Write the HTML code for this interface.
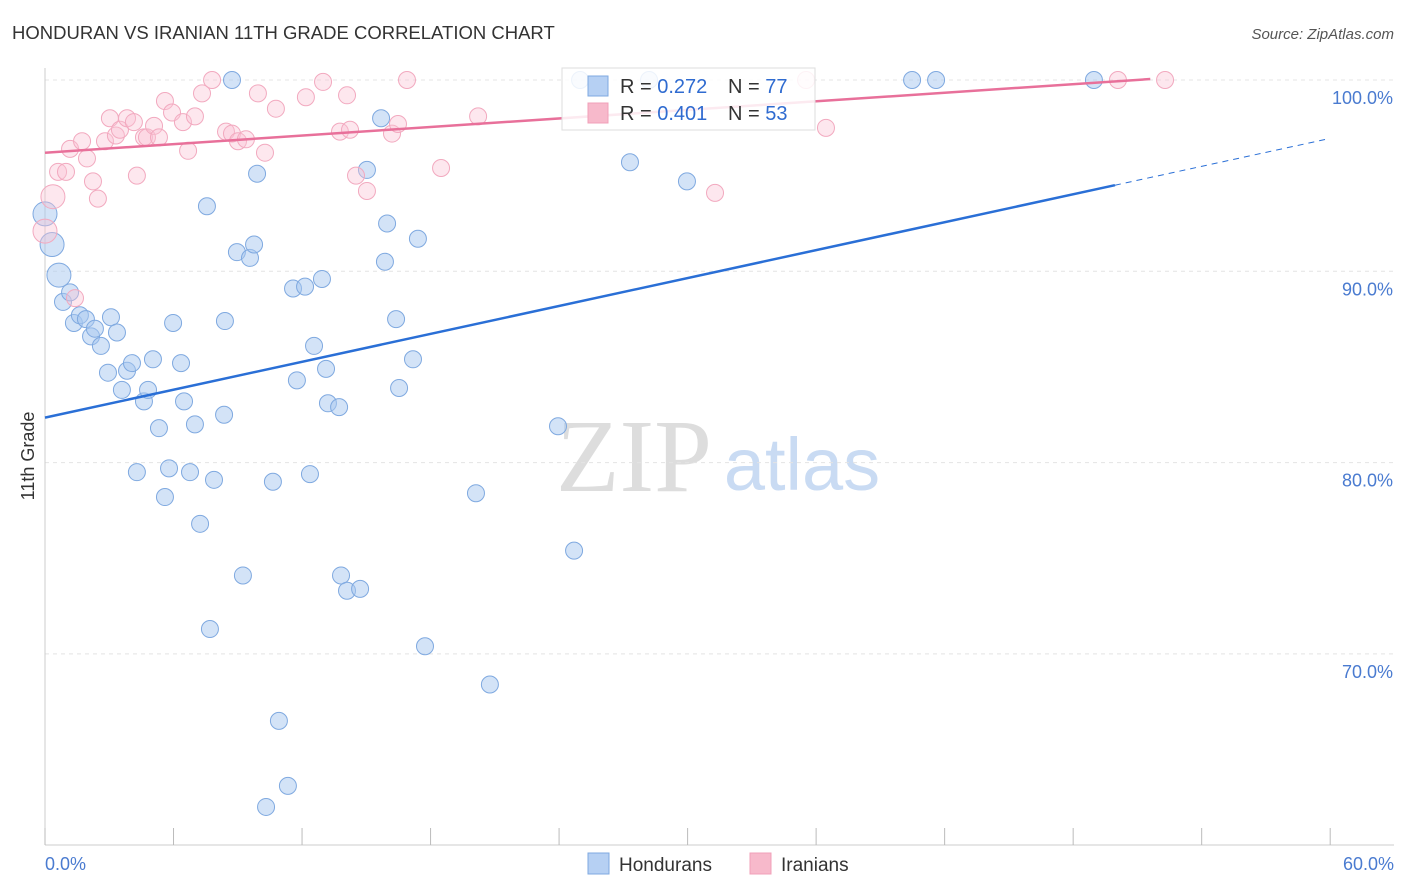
<!DOCTYPE html>
<html><head><meta charset="utf-8"><style>
body{margin:0;background:#fff;font-family:"Liberation Sans",sans-serif;}
svg{display:block}
</style></head><body>
<svg id="chart" width="1406" height="892">
<text x="12" y="39" font-size="18.5" fill="#333">HONDURAN VS IRANIAN 11TH GRADE CORRELATION CHART</text>
<text x="1394" y="39" font-size="15" fill="#555" text-anchor="end" font-style="italic">Source: ZipAtlas.com</text>
<text x="634" y="491" font-size="104" fill="#ddd" text-anchor="middle" font-family="Liberation Serif,serif">ZIP</text>
<text x="802" y="490" font-size="74" fill="#c9dbf3" text-anchor="middle">atlas</text>
<text transform="translate(34,456) rotate(-90)" font-size="18" fill="#333" text-anchor="middle">11th Grade</text>
<g id="grid"></g><g id="marks"></g><g id="lines"></g>
<g>
<rect x="562" y="68" width="253" height="62" fill="#fff" fill-opacity="0.85" stroke="#ddd"/>
<rect x="588" y="76" width="20" height="20" fill="#b6d0f3" stroke="#7fa9e0"/>
<text x="620" y="93" font-size="20" fill="#333">R = <tspan fill="#2f6bd0">0.272</tspan></text>
<text x="728" y="93" font-size="20" fill="#333">N = <tspan fill="#2f6bd0">77</tspan></text>
<rect x="588" y="103" width="20" height="20" fill="#f7b9cb" stroke="#f0a0b8"/>
<text x="620" y="120" font-size="20" fill="#333">R = <tspan fill="#2f6bd0">0.401</tspan></text>
<text x="728" y="120" font-size="20" fill="#333">N = <tspan fill="#2f6bd0">53</tspan></text>
</g>
<g>
<rect x="588" y="853" width="21" height="21" fill="#b6d0f3" stroke="#7fa9e0"/>
<text x="619" y="871" font-size="19" fill="#333">Hondurans</text>
<rect x="750" y="853" width="21" height="21" fill="#f7b9cb" stroke="#f0a0b8"/>
<text x="781" y="871" font-size="19" fill="#333">Iranians</text>
</g>
</svg>
<script>
const yTicks=[70,80,90,100];
const yTickLabels=["70.0%","80.0%","90.0%","100.0%"];
const xTickLabels=["0.0%","60.0%"];
const hondX=[0,0.33,0.65,0.84,1.17,1.35,1.63,1.91,2.15,2.33,2.61,2.94,3.08,3.36,3.59,3.83,4.06,4.29,4.62,4.81,5.04,5.32,5.60,5.79,5.98,6.35,6.49,6.77,7.00,7.24,7.56,7.70,7.89,8.36,8.40,8.73,8.96,9.24,9.57,9.76,9.90,10.32,10.64,10.92,11.34,11.58,11.76,12.14,12.37,12.56,12.93,13.12,13.21,13.73,13.82,14.10,14.71,15.03,15.69,15.87,15.97,16.39,16.53,17.18,17.41,17.74,20.12,20.77,23.95,24.70,24.98,27.31,28.20,29.97,40.48,41.60,48.97];
const hondY=[93.0,91.4,89.8,88.4,88.9,87.3,87.7,87.5,86.6,87.0,86.1,84.7,87.6,86.8,83.8,84.8,85.2,79.5,83.2,83.8,85.4,81.8,78.2,79.7,87.3,85.2,83.2,79.5,82.0,76.8,93.4,71.3,79.1,82.5,87.4,100,91.0,74.1,90.7,91.4,95.1,62.0,79.0,66.5,63.1,89.1,84.3,89.2,79.4,86.1,89.6,84.9,83.1,82.9,74.1,73.3,73.4,95.3,98.0,90.5,92.5,87.5,83.9,85.4,91.7,70.4,78.4,68.4,81.9,75.4,100,95.7,100,94.7,100,100,100];
const iranX=[0,0.37,0.61,0.98,1.17,1.40,1.73,1.96,2.24,2.47,2.80,3.03,3.31,3.50,3.83,4.15,4.29,4.62,4.76,5.09,5.32,5.60,5.93,6.44,6.68,7.00,7.33,7.80,8.45,8.73,9.01,9.38,9.94,10.27,10.78,12.18,12.98,13.77,14.10,14.24,14.52,15.03,16.20,16.48,16.90,18.49,20.22,31.28,35.53,36.46,50.09,52.29];
const iranY=[92.1,93.9,95.2,95.2,96.4,88.6,96.8,95.9,94.7,93.8,96.8,98.0,97.1,97.4,98.0,97.8,95.0,97.0,97.0,97.6,97.0,98.9,98.3,97.8,96.3,98.1,99.3,100,97.3,97.2,96.8,96.9,99.3,96.2,98.5,99.1,99.9,97.3,99.2,97.4,95.0,94.2,97.2,97.7,100,95.4,98.1,94.1,100,97.5,100,100];
const hondTrend=[[0,82.35],[49.95,94.5]];
const hondTrendDash=[[49.95,94.5],[59.8,96.9]];
const iranTrend=[[0,96.2],[51.6,100.05]];
const X=v=>45+v*21.42, Y=v=>80+(100-v)*19.13;
const NS="http://www.w3.org/2000/svg";
function mk(parent,tag,attrs){const e=document.createElementNS(NS,tag);for(const k in attrs)e.setAttribute(k,attrs[k]);document.getElementById(parent).appendChild(e);return e;}
yTicks.forEach((t,i)=>{
 let l=mk('grid','line',{x1:45,x2:1394,y1:Y(t),y2:Y(t),stroke:'#e4e4e4','stroke-dasharray':'4,4'});
 
 
 let tx=mk('grid','text',{x:1393,y:Y(t)+24,'font-size':18,fill:'#4a7bd0','text-anchor':'end'});
 tx.textContent=yTickLabels[i];
 
 
});
let ax=mk('grid','line',{x1:45,x2:1394,y1:845,y2:845,stroke:'#ccc'});


let ay=mk('grid','line',{x1:45,x2:45,y1:68,y2:845,stroke:'#ccc'});


for(let i=0;i<=10;i++){
 let t=mk('grid','line',{x1:X(i*6),x2:X(i*6),y1:828,y2:845,stroke:'#bbb'});
 
 
}
[[0,xTickLabels[0],'start',45],[60,xTickLabels[1],'end',1394]].forEach(a=>{
 let tx=mk('grid','text',{x:a[3],y:870,'font-size':18,fill:'#4a7bd0','text-anchor':a[2]});
 tx.textContent=a[1];
 
 
});
hondX.forEach((x,i)=>{
 let c=mk('marks','circle',{cx:X(x),cy:Y(hondY[i]),r:(i<3?12:8.5),fill:'#a8c8f0','fill-opacity':0.5,stroke:'#7fa9e0','stroke-width':1});
 
 
});
iranX.forEach((x,i)=>{
 let c=mk('marks','circle',{cx:X(x),cy:Y(iranY[i]),r:(i<2?12:8.5),fill:'#f9c4d4','fill-opacity':0.4,stroke:'#f2a9bf','stroke-width':1});
 
 
});
let l1=mk('lines','line',{x1:X(hondTrend[0][0]),y1:Y(hondTrend[0][1]),x2:X(hondTrend[1][0]),y2:Y(hondTrend[1][1]),stroke:'#2a6fd6','stroke-width':2.5});


let l2=mk('lines','line',{x1:X(hondTrendDash[0][0]),y1:Y(hondTrendDash[0][1]),x2:X(hondTrendDash[1][0]),y2:Y(hondTrendDash[1][1]),stroke:'#2a6fd6','stroke-width':1,'stroke-dasharray':'6,5'});


let l3=mk('lines','line',{x1:X(iranTrend[0][0]),y1:Y(iranTrend[0][1]),x2:X(iranTrend[1][0]),y2:Y(iranTrend[1][1]),stroke:'#e8709a','stroke-width':2.5});


</script>
</body></html>
